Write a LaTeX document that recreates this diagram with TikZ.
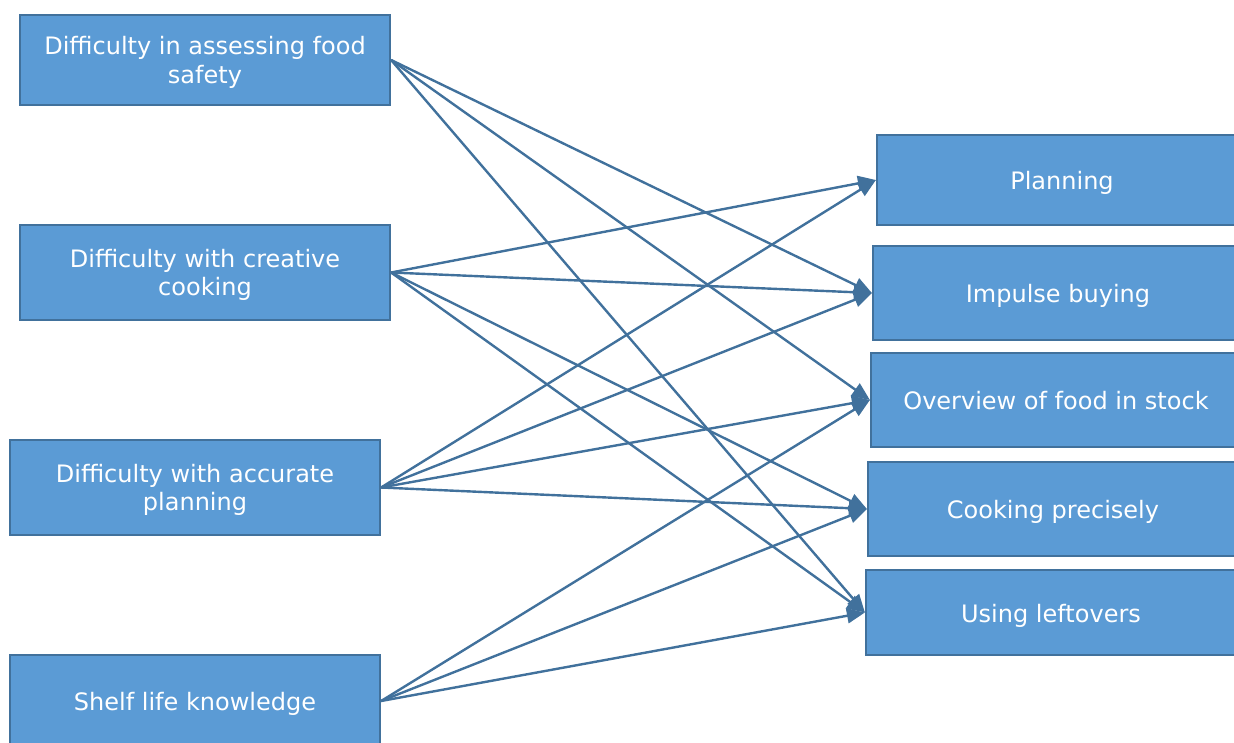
\documentclass[tikz,border=0pt]{standalone}
\usepackage{fontspec}
\setmainfont{DejaVu Sans}
\usetikzlibrary{arrows.meta}
\definecolor{boxfill}{HTML}{5B9BD5}
\definecolor{boxline}{HTML}{41719C}
\begin{document}
\begin{tikzpicture}[x=1pt,y=-1pt,
  box/.style={draw=boxline, line width=2.2pt, fill=boxfill, text=white,
    minimum width=370pt, align=center, inner sep=0pt,
    font=\fontsize{24}{28.5}\selectfont,
    % fixed struts so every label sits at the same height in its box
    execute at begin node={\rule{0pt}{25.5pt}},
    execute at end node={\rule[-6pt]{0pt}{6pt}}},
  % two-line labels: drop the depth so the block sits a little lower
  twoline/.style={text depth=0pt},
  link/.style={draw=boxline, line width=2.4pt,
    -{Triangle[length=18pt,width=15pt]}}]
\useasboundingbox (0,0) rectangle (1234,743);
% causes (left column)
\node[box, twoline, minimum height=90pt] (c1) at (205,60) {Difficulty in assessing food\\safety};
\node[box, twoline, minimum height=95pt] (c2) at (205,272.5) {Difficulty with creative\\cooking};
\node[box, twoline, minimum height=95pt] (c3) at (195,487.5) {Difficulty with accurate\\planning};
\node[box, minimum height=92pt] (c4) at (195,701) {Shelf life knowledge};
% practices (right column)
\node[box, minimum height=90pt] (p1) at (1062,180) {Planning};
\node[box, minimum height=94pt] (p2) at (1058,293) {Impulse buying};
\node[box, minimum height=94pt] (p3) at (1056,400) {Overview of food in stock};
\node[box, minimum height=94pt] (p4) at (1053,509) {Cooking precisely};
\node[box, minimum height=85pt] (p5) at (1051,612.5) {Using leftovers};
% links
\draw[link] (c1.east) -- (p2.west);
\draw[link] (c1.east) -- (p3.west);
\draw[link] (c1.east) -- (p5.west);
\draw[link] (c2.east) -- (p1.west);
\draw[link] (c2.east) -- (p2.west);
\draw[link] (c2.east) -- (p4.west);
\draw[link] (c2.east) -- (p5.west);
\draw[link] (c3.east) -- (p1.west);
\draw[link] (c3.east) -- (p2.west);
\draw[link] (c3.east) -- (p3.west);
\draw[link] (c3.east) -- (p4.west);
\draw[link] (c4.east) -- (p3.west);
\draw[link] (c4.east) -- (p4.west);
\draw[link] (c4.east) -- (p5.west);
\end{tikzpicture}
\end{document}
